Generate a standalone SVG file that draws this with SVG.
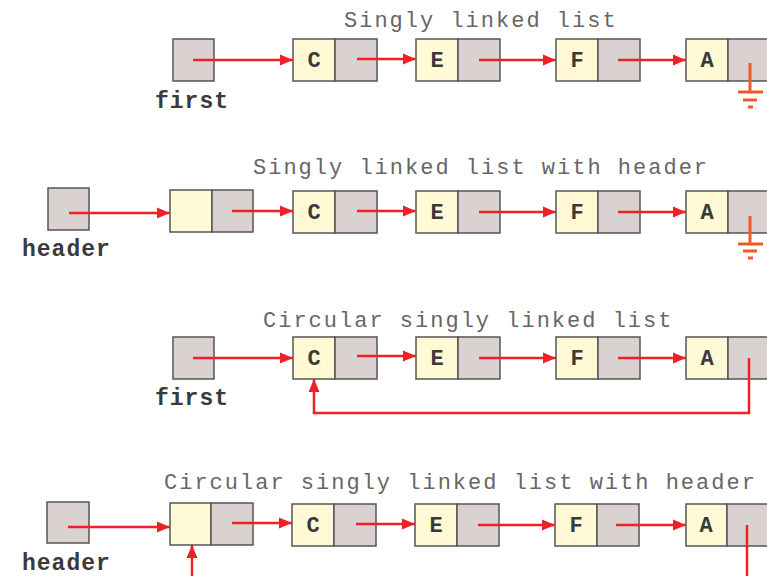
<svg xmlns="http://www.w3.org/2000/svg" width="767" height="576" viewBox="0 0 767 576">
<style>
.bg{fill:#ffffff}
.data{fill:#fff9d6;stroke:#555;stroke-width:1.5}
.ptr{fill:#d9d2d0;stroke:#555;stroke-width:1.5}
.val{font-family:"Liberation Mono",monospace;font-weight:bold;font-size:22px;fill:#3a3a3a;text-anchor:middle}
.lbl{font-family:"Liberation Mono",monospace;font-weight:bold;font-size:23px;fill:#3a3a3a;letter-spacing:1px}
.title{font-family:"Liberation Mono",monospace;font-size:22px;fill:#666;letter-spacing:2px}
.link{stroke:#ee2028;stroke-width:2.5;fill:none}
.gnd{stroke:#f05a28;stroke-width:3;fill:none}
</style>
<defs>
<marker id="ah" markerUnits="userSpaceOnUse" markerWidth="14" markerHeight="12" refX="13" refY="6" orient="auto">
<path d="M0,0.5 L13,6 L0,11.5 z" fill="#ee2028"/>
</marker>
</defs>
<rect class="bg" x="0" y="0" width="767" height="576"/>

<text class="title" x="344" y="27">Singly linked list</text>
<text class="title" x="253" y="174">Singly linked list with header</text>
<text class="title" x="263" y="327">Circular singly linked list</text>
<text class="title" x="164" y="489">Circular singly linked list with header</text>

<!-- Row 1 -->
<g id="r1-first"><rect class="ptr" x="173" y="39" width="41" height="42"/><text class="lbl" x="155" y="108">first</text></g>
<g id="r1-C"><rect class="data" x="293" y="39" width="42" height="42"/><rect class="ptr" x="335" y="39" width="42" height="42"/><text class="val" x="314" y="67">C</text></g>
<g id="r1-E"><rect class="data" x="416" y="39" width="42" height="42"/><rect class="ptr" x="458" y="39" width="42" height="42"/><text class="val" x="437" y="67">E</text></g>
<g id="r1-F"><rect class="data" x="556" y="39" width="42" height="42"/><rect class="ptr" x="598" y="39" width="42" height="42"/><text class="val" x="577" y="67">F</text></g>
<g id="r1-A"><rect class="data" x="686" y="39" width="42" height="42"/><rect class="ptr" x="728" y="39" width="42" height="42"/><text class="val" x="707" y="67">A</text></g>
<g id="r1-gnd"><path class="gnd" d="M750,63 V92 M738,92 H763 M743,100 H757 M748,107 H753"/></g>

<!-- Row 2 -->
<g id="r2-header"><rect class="ptr" x="48" y="188" width="41" height="42"/><text class="lbl" x="22" y="256">header</text></g>
<g id="r2-H"><rect class="data" x="170" y="190" width="42" height="42"/><rect class="ptr" x="212" y="190" width="41" height="42"/></g>
<g id="r2-C"><rect class="data" x="293" y="191" width="42" height="42"/><rect class="ptr" x="335" y="191" width="42" height="42"/><text class="val" x="314" y="219">C</text></g>
<g id="r2-E"><rect class="data" x="416" y="191" width="42" height="42"/><rect class="ptr" x="458" y="191" width="42" height="42"/><text class="val" x="437" y="219">E</text></g>
<g id="r2-F"><rect class="data" x="556" y="191" width="42" height="42"/><rect class="ptr" x="598" y="191" width="42" height="42"/><text class="val" x="577" y="219">F</text></g>
<g id="r2-A"><rect class="data" x="686" y="191" width="42" height="42"/><rect class="ptr" x="728" y="191" width="42" height="42"/><text class="val" x="707" y="219">A</text></g>
<g id="r2-gnd"><path class="gnd" d="M750,216 V244 M738,244 H763 M743,251 H757 M748,258 H753"/></g>

<!-- Row 3 -->
<g id="r3-first"><rect class="ptr" x="173" y="337" width="41" height="42"/><text class="lbl" x="155" y="405">first</text></g>
<g id="r3-C"><rect class="data" x="293" y="337" width="42" height="42"/><rect class="ptr" x="335" y="337" width="42" height="42"/><text class="val" x="314" y="365">C</text></g>
<g id="r3-E"><rect class="data" x="416" y="337" width="42" height="42"/><rect class="ptr" x="458" y="337" width="42" height="42"/><text class="val" x="437" y="365">E</text></g>
<g id="r3-F"><rect class="data" x="556" y="337" width="42" height="42"/><rect class="ptr" x="598" y="337" width="42" height="42"/><text class="val" x="577" y="365">F</text></g>
<g id="r3-A"><rect class="data" x="686" y="337" width="42" height="42"/><rect class="ptr" x="728" y="337" width="42" height="42"/><text class="val" x="707" y="365">A</text></g>

<!-- Row 4 -->
<g id="r4-header"><rect class="ptr" x="47" y="502" width="42" height="41"/><text class="lbl" x="22" y="570">header</text></g>
<g id="r4-H"><rect class="data" x="170" y="503" width="41" height="42"/><rect class="ptr" x="211" y="503" width="42" height="42"/></g>
<g id="r4-C"><rect class="data" x="292" y="504" width="42" height="42"/><rect class="ptr" x="334" y="504" width="42" height="42"/><text class="val" x="313" y="532">C</text></g>
<g id="r4-E"><rect class="data" x="415" y="504" width="42" height="42"/><rect class="ptr" x="457" y="504" width="42" height="42"/><text class="val" x="436" y="532">E</text></g>
<g id="r4-F"><rect class="data" x="555" y="504" width="42" height="42"/><rect class="ptr" x="597" y="504" width="42" height="42"/><text class="val" x="576" y="532">F</text></g>
<g id="r4-A"><rect class="data" x="686" y="504" width="41" height="42"/><rect class="ptr" x="727" y="504" width="42" height="42"/><text class="val" x="706" y="532">A</text></g>

<g id="connectors">
<line class="link" x1="193" y1="60" x2="293" y2="60" marker-end="url(#ah)"/>
<line class="link" x1="357" y1="59" x2="416" y2="59" marker-end="url(#ah)"/>
<line class="link" x1="479" y1="60" x2="556" y2="60" marker-end="url(#ah)"/>
<line class="link" x1="618" y1="60" x2="686" y2="60" marker-end="url(#ah)"/>

<line class="link" x1="69" y1="213" x2="170" y2="213" marker-end="url(#ah)"/>
<line class="link" x1="232" y1="211" x2="293" y2="211" marker-end="url(#ah)"/>
<line class="link" x1="357" y1="211" x2="416" y2="211" marker-end="url(#ah)"/>
<line class="link" x1="479" y1="212" x2="556" y2="212" marker-end="url(#ah)"/>
<line class="link" x1="618" y1="212" x2="686" y2="212" marker-end="url(#ah)"/>

<line class="link" x1="193" y1="358" x2="293" y2="358" marker-end="url(#ah)"/>
<line class="link" x1="357" y1="356" x2="416" y2="356" marker-end="url(#ah)"/>
<line class="link" x1="479" y1="358" x2="556" y2="358" marker-end="url(#ah)"/>
<line class="link" x1="618" y1="358" x2="686" y2="358" marker-end="url(#ah)"/>
<path class="link" d="M749,358 V413 H314 V379" marker-end="url(#ah)"/>

<line class="link" x1="68" y1="527" x2="170" y2="527" marker-end="url(#ah)"/>
<line class="link" x1="232" y1="523" x2="292" y2="523" marker-end="url(#ah)"/>
<line class="link" x1="356" y1="524" x2="415" y2="524" marker-end="url(#ah)"/>
<line class="link" x1="478" y1="525" x2="555" y2="525" marker-end="url(#ah)"/>
<line class="link" x1="616" y1="525" x2="686" y2="525" marker-end="url(#ah)"/>
<line class="link" x1="192" y1="576" x2="192" y2="545" marker-end="url(#ah)"/>
<line class="link" x1="747" y1="525" x2="747" y2="576"/>
</g>
</svg>
